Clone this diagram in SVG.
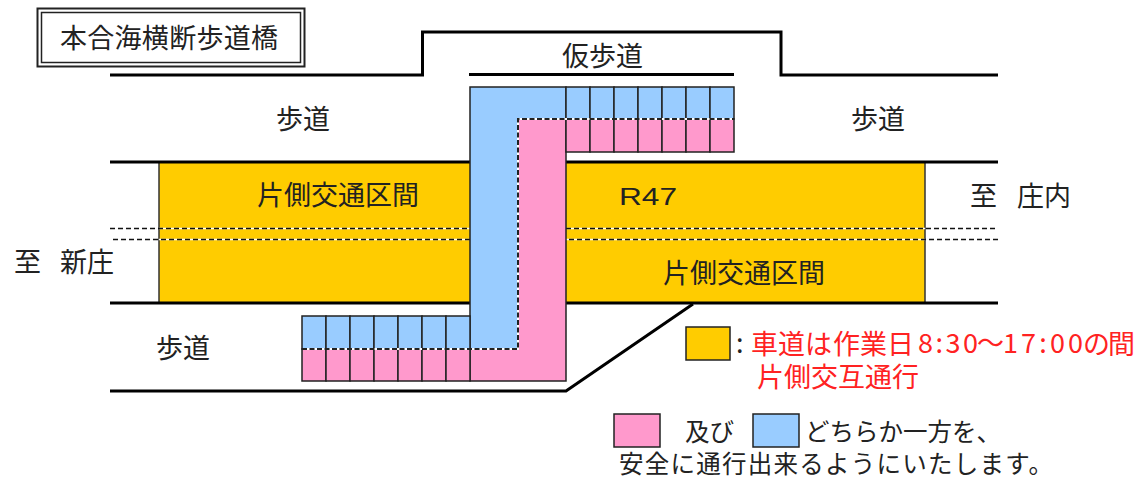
<svg xmlns="http://www.w3.org/2000/svg" width="1140" height="478" viewBox="0 0 1140 478">
<style>
text{font-family:"Noto Sans CJK JP","Liberation Sans",sans-serif;font-size:27px;fill:#222}
.r{fill:#f22}
.s{font-size:24.500px}
.road{fill:none;stroke:#000;stroke-width:3}
.dashbg{fill:none;stroke:#fff;stroke-width:1.500}
.dash{fill:none;stroke:#111;stroke-width:1.500;stroke-dasharray:5 3}
.cell{stroke:#222;stroke-width:1.500}
.b{fill:#99ccff}.p{fill:#ff99cc}.y{fill:#ffcc00}
</style>
<rect width="1140" height="478" fill="#fff"/>
<g id="title">
<rect x="37.500" y="8.500" width="267" height="58" fill="none" stroke="#222" stroke-width="2"/>
<rect x="41.500" y="12.500" width="259" height="50" fill="none" stroke="#222" stroke-width="1.500"/>
<text x="60" y="48" textLength="218">本合海横断歩道橋</text>
</g>
<g id="carriageway">
<rect class="y" x="159" y="162" width="766" height="141" stroke="#333" stroke-width="1.500"/>
</g>
<g id="connectors">
<path class="road" d="M110 75H422.500V32H781V75H998"/>
<path class="road" d="M469 74.500H734"/>
<path class="road" d="M110 162H998"/>
<path class="road" d="M110 303H998"/>
<path class="road" d="M110 391H566L693 304"/>
<path class="dashbg" d="M159 228.500H925M159 239.500H925"/>
<path class="dash" d="M110 228.500H998"/>
<path class="dash" d="M113 239.500H998"/>
</g>
<g id="temporary-walkway-blue">
<path class="b cell" d="M470 87H566V119H518V349H470Z"/>
<g class="cell b">
<rect x="566" y="87" width="24" height="32"/><rect x="590" y="87" width="24" height="32"/><rect x="614" y="87" width="24" height="32"/><rect x="638" y="87" width="24" height="32"/><rect x="662" y="87" width="24" height="32"/><rect x="686" y="87" width="24" height="32"/><rect x="710" y="87" width="24" height="32"/>
<rect x="302" y="316" width="24" height="33"/><rect x="326" y="316" width="24" height="33"/><rect x="350" y="316" width="24" height="33"/><rect x="374" y="316" width="24" height="33"/><rect x="398" y="316" width="24" height="33"/><rect x="422" y="316" width="24" height="33"/><rect x="446" y="316" width="24" height="33"/>
</g>
</g>
<g id="temporary-walkway-pink">
<path class="p cell" d="M518 119H566V381H470V349H518Z"/>
<g class="cell p">
<rect x="566" y="119" width="24" height="33"/><rect x="590" y="119" width="24" height="33"/><rect x="614" y="119" width="24" height="33"/><rect x="638" y="119" width="24" height="33"/><rect x="662" y="119" width="24" height="33"/><rect x="686" y="119" width="24" height="33"/><rect x="710" y="119" width="24" height="33"/>
<rect x="302" y="349" width="24" height="32"/><rect x="326" y="349" width="24" height="32"/><rect x="350" y="349" width="24" height="32"/><rect x="374" y="349" width="24" height="32"/><rect x="398" y="349" width="24" height="32"/><rect x="422" y="349" width="24" height="32"/><rect x="446" y="349" width="24" height="32"/>
</g>
<path d="M302 349H518V119H734" fill="none" stroke="#fff" stroke-width="2"/>
<path d="M302 349H518V119H734" fill="none" stroke="#222" stroke-width="2" stroke-dasharray="5 2.500"/>
</g>
<g id="labels">
<text x="562" y="66">仮歩道</text>
<text x="276" y="129">歩道</text>
<text x="851" y="129">歩道</text>
<text x="156" y="358">歩道</text>
<text x="257" y="205">片側交通区間</text>
<text x="663" y="283">片側交通区間</text>
<text x="619" y="205" textLength="58" lengthAdjust="spacingAndGlyphs" style="font-family:'Liberation Sans',sans-serif;font-size:23px">R47</text>
<text x="14" y="272">至</text>
<text x="60" y="272">新庄</text>
<text x="970" y="206">至</text>
<text x="1017" y="206">庄内</text>
</g>
<g id="legend-carriageway">
<rect class="y" x="686" y="327" width="44" height="33" stroke="#222" stroke-width="1.500"/>
<text x="736" y="353">:</text>
<text class="r" x="751" y="354">車道は</text>
<text class="r" x="833" y="354">作業日</text>
<text class="r" x="918" y="353" textLength="60">8:30</text>
<text class="r" x="977" y="353">～</text>
<text class="r" x="1003" y="353" textLength="80">17:00</text>
<text class="r" x="1083" y="354" textLength="52">の間</text>
<text class="r" x="757" y="387">片側交互通行</text>
</g>
<g id="legend-walkway">
<rect class="p" x="614" y="414" width="46" height="33" stroke="#222" stroke-width="1.500"/>
<text class="s" x="685" y="441">及び</text>
<rect class="b" x="753" y="414" width="46" height="33" stroke="#222" stroke-width="1.500"/>
<text class="s" x="805" y="441">どちらか一方を、</text>
<text class="s" x="619" y="473" textLength="434">安全に通行出来るようにいたします。</text>
</g>
</svg>
